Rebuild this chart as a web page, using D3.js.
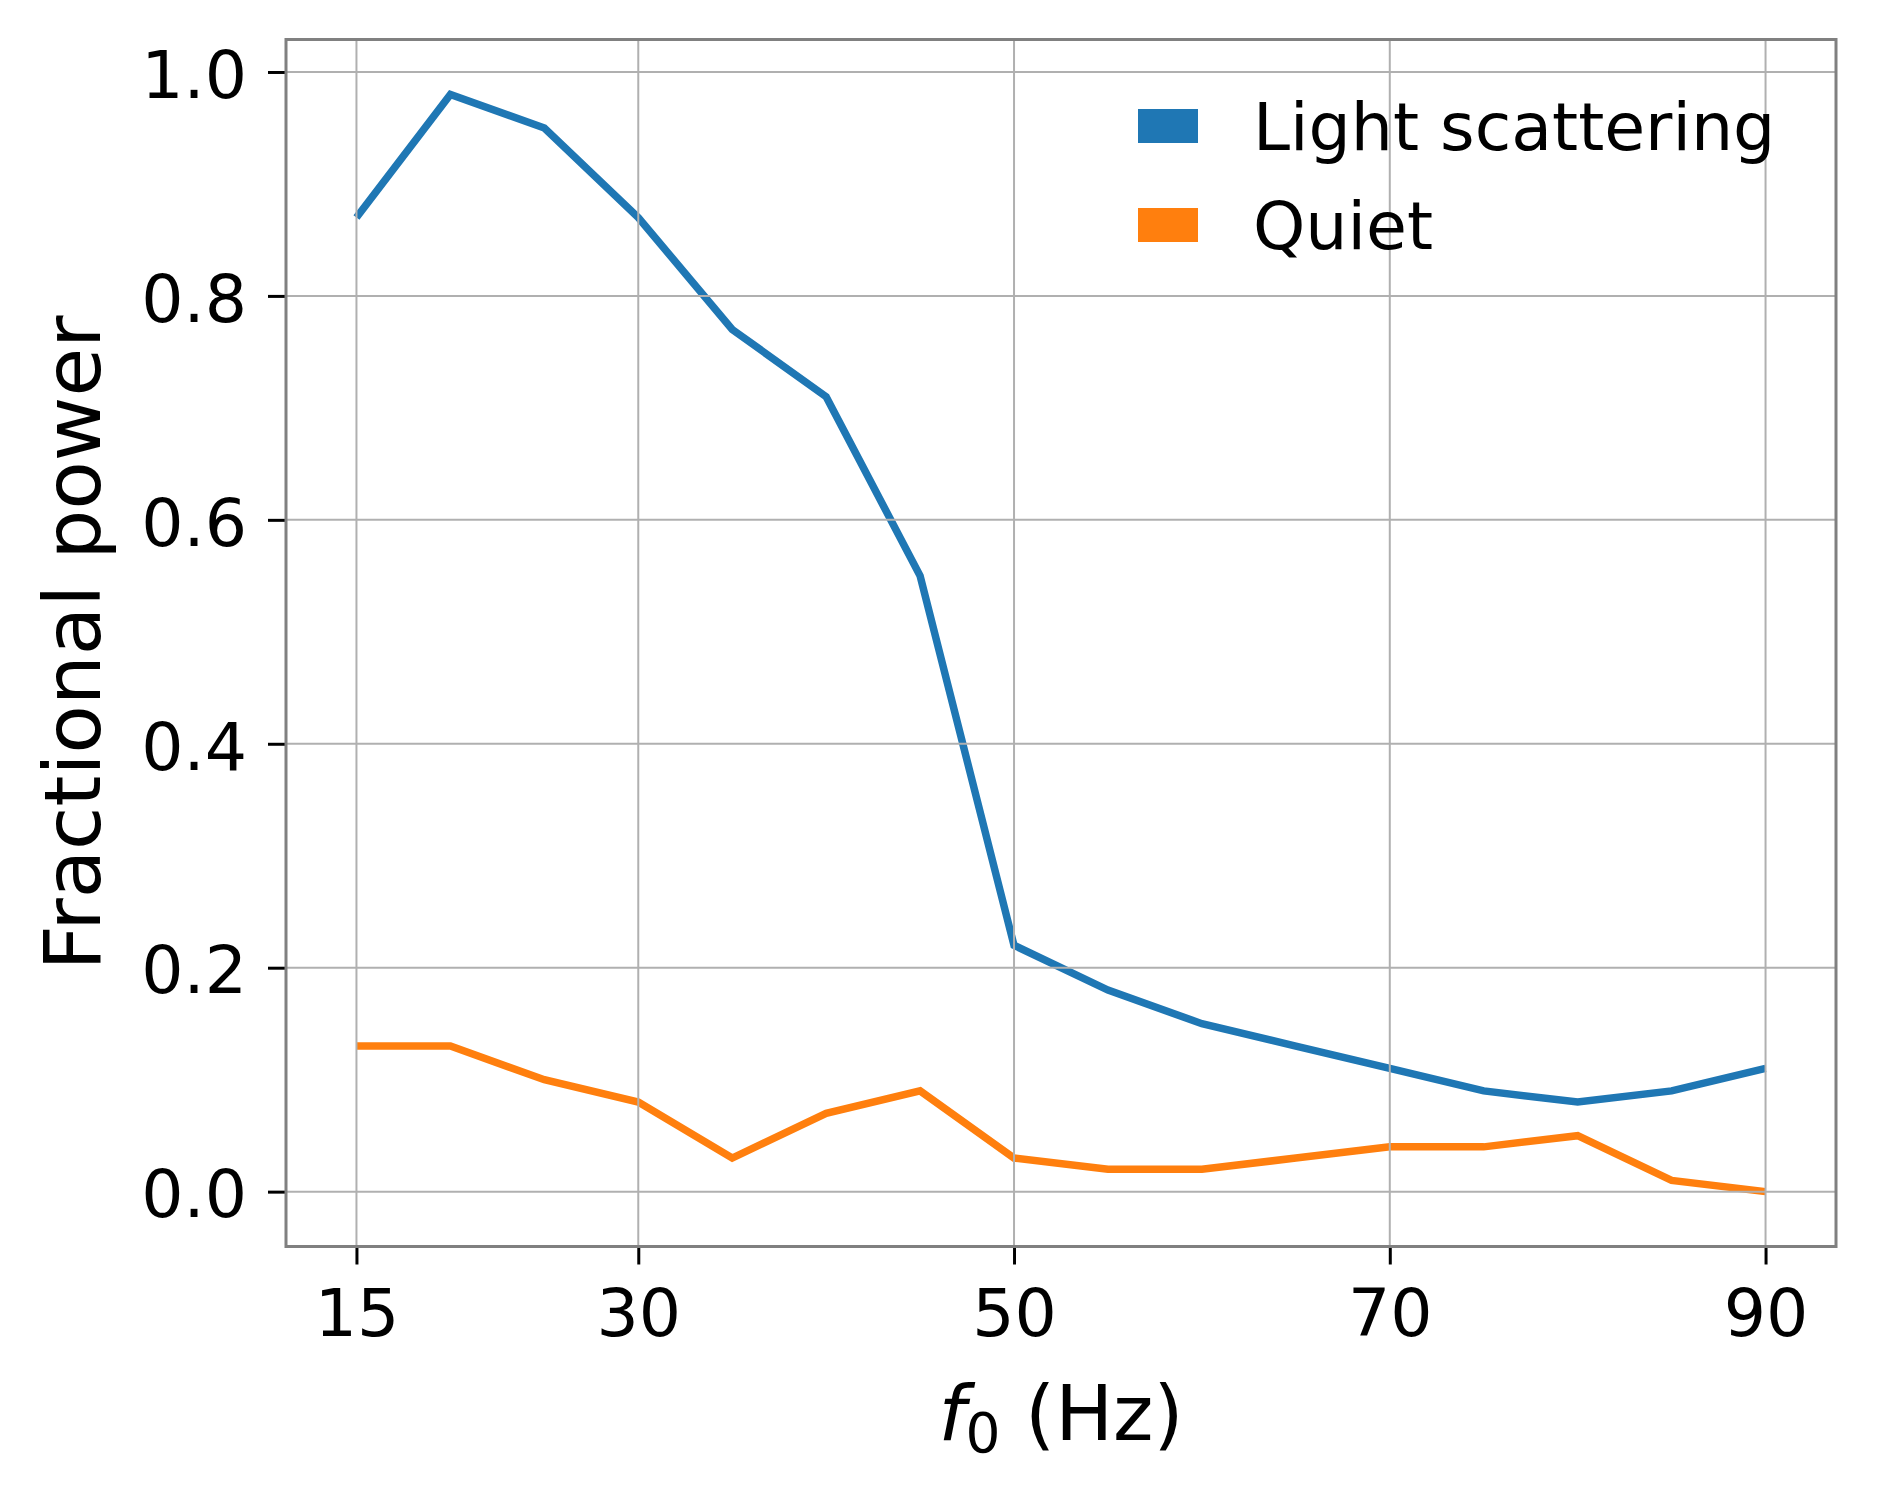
<meta charset="utf-8">
<title>Fractional power</title>
<style>
  body { margin: 0; background: #fff; }
  text { font-family: "DejaVu Sans", sans-serif; fill: #000; }
</style>
<body>
<script src="https://cdn.jsdelivr.net/npm/d3@7"></script>
<script>

var width = 1877;
var height = 1497;
var margin = { top: 39.5, right: 41, bottom: 250.5, left: 286 };

// data
var freqs = [15, 20, 25, 30, 35, 40, 45, 50, 55, 60, 65, 70, 75, 80, 85, 90];
var lightScattering = [0.87, 0.98, 0.95, 0.87, 0.77, 0.71, 0.55, 0.22, 0.18, 0.15, 0.13, 0.11, 0.09, 0.08, 0.09, 0.11];
var quiet = [0.13, 0.13, 0.10, 0.08, 0.03, 0.07, 0.09, 0.03, 0.02, 0.02, 0.03, 0.04, 0.04, 0.05, 0.01, 0.00];
var seriesNames = ['Light scattering', 'Quiet'];
var colors = ['#1f77b4', '#ff7f0e'];
var xTicks = [15, 30, 50, 70, 90];
var yTicks = [0, 0.2, 0.4, 0.6, 0.8, 1.0];

var iw = width - margin.left - margin.right;
var ih = height - margin.top - margin.bottom;

var svg = d3.select('body').append('svg')
    .attr('width', width)
    .attr('height', height);

var g = svg.append('g')
    .attr('transform', 'translate(' + margin.left + ',' + margin.top + ')');

// matplotlib style 5% margins
var x = d3.scaleLinear().domain([11.25, 93.75]).range([0, iw]);
var y = d3.scaleLinear().domain([-0.049, 1.029]).range([ih, 0]);

var line = d3.line()
    .x(function(d, i) { return x(freqs[i]); })
    .y(function(d) { return y(d); });

// data lines (grid is drawn over them, like the original)
[lightScattering, quiet].forEach(function(s, k) {
  g.append('path')
    .datum(s)
    .attr('d', line)
    .attr('fill', 'none')
    .attr('stroke', colors[k])
    .attr('stroke-width', 7.5)
    .attr('stroke-linejoin', 'miter');
});

// grid
g.append('g').selectAll('line')
  .data(xTicks).enter().append('line')
    .attr('x1', function(d) { return x(d); })
    .attr('x2', function(d) { return x(d); })
    .attr('y1', 0).attr('y2', ih)
    .attr('stroke', '#b0b0b0').attr('stroke-width', 2);
g.append('g').selectAll('line')
  .data(yTicks).enter().append('line')
    .attr('y1', function(d) { return y(d); })
    .attr('y2', function(d) { return y(d); })
    .attr('x1', 0).attr('x2', iw)
    .attr('stroke', '#b0b0b0').attr('stroke-width', 2);

// axes
var xAxis = d3.axisBottom(x).tickValues(xTicks).tickSize(18).tickPadding(24)
    .tickFormat(d3.format('d'));
var yAxis = d3.axisLeft(y).tickValues(yTicks).tickSize(18).tickPadding(21)
    .tickFormat(d3.format('.1f'));

var gx = g.append('g').attr('transform', 'translate(0,' + ih + ')').call(xAxis);
var gy = g.append('g').call(yAxis);

[gx, gy].forEach(function(a) {
  a.select('.domain').remove();
  a.selectAll('.tick line').attr('stroke', '#000').attr('stroke-width', 3);
  a.selectAll('.tick text')
    .style('font-family', '"DejaVu Sans", sans-serif')
    .style('font-size', '66.5px')
    .attr('fill', '#000');
});
gy.selectAll('.tick text').attr('dy', '0.38em');

// spines
g.append('rect')
  .attr('x', 0).attr('y', 0)
  .attr('width', iw).attr('height', ih)
  .attr('fill', 'none')
  .attr('stroke', '#808080')
  .attr('stroke-width', 3);

// axis labels
var xl = svg.append('text')
  .attr('x', margin.left + iw / 2)
  .attr('y', 1440)
  .attr('text-anchor', 'middle')
  .style('font-size', '77px');
xl.append('tspan').style('font-style', 'italic').text('f');
xl.append('tspan').attr('dy', 12).style('font-size', '55px').text('0');
xl.append('tspan').attr('dy', -12).text(' (Hz)');

svg.append('text')
  .attr('transform', 'translate(100,' + (margin.top + ih / 2) + ') rotate(-90)')
  .attr('text-anchor', 'middle')
  .style('font-size', '79px')
  .text('Fractional power');

// legend
var legend = svg.append('g').attr('transform', 'translate(1138,109)');
seriesNames.forEach(function(name, i) {
  var row = legend.append('g').attr('transform', 'translate(0,' + (i * 99) + ')');
  row.append('rect')
    .attr('width', 60).attr('height', 34)
    .attr('fill', colors[i]);
  row.append('text')
    .attr('x', 115).attr('y', 41)
    .style('font-size', '66.5px')
    .text(name);
});

</script>
</body>
